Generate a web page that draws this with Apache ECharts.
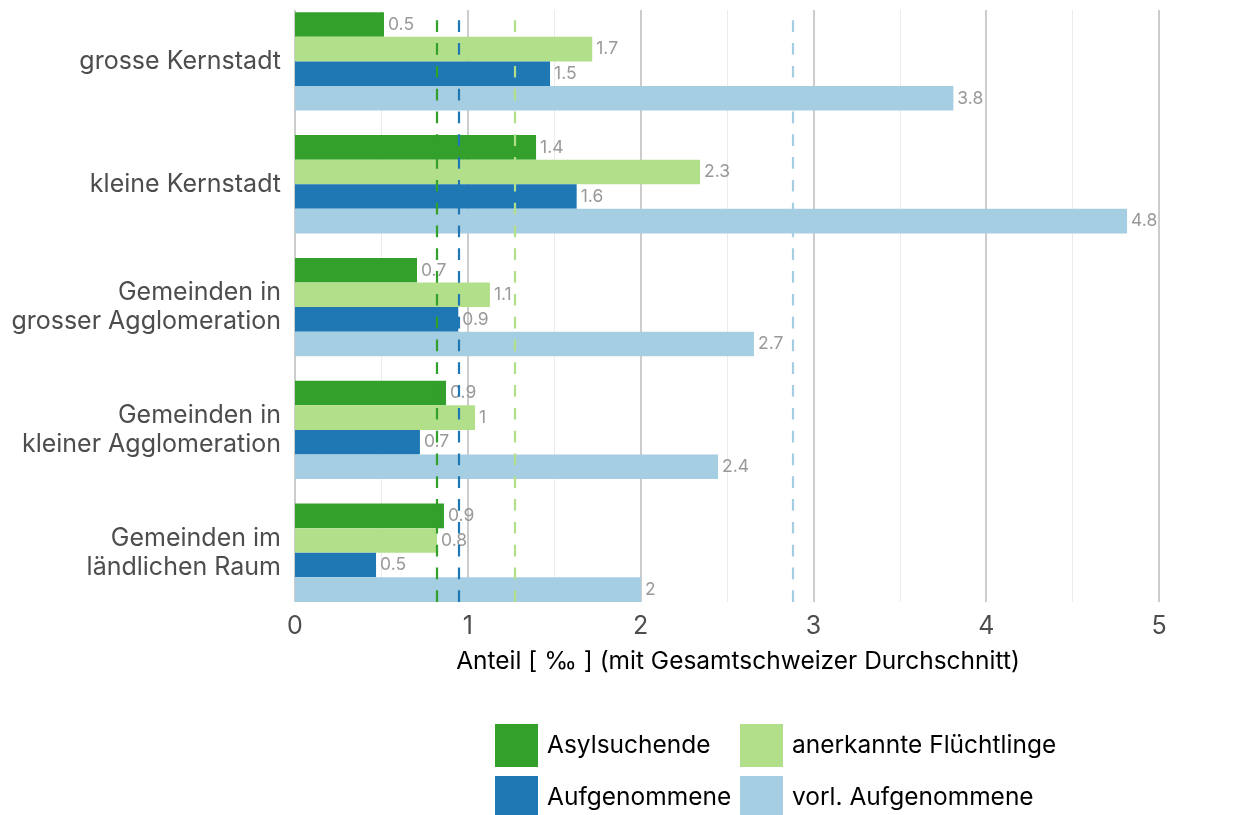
<!DOCTYPE html>
<html>
<head>
<meta charset="utf-8">
<script src="https://cdn.jsdelivr.net/npm/echarts@6/dist/echarts.min.js"></script>
<style>
html,body{margin:0;padding:0;background:#fff;}
#chart{width:1233px;height:815px;}
</style>
</head>
<body>
<div id="chart"></div>
<script>
var categories = ['grosse Kernstadt', 'kleine Kernstadt', 'Gemeinden in\ngrosser Agglomeration', 'Gemeinden in\nkleiner Agglomeration', 'Gemeinden im\nländlichen Raum'];
var seriesNames = ['Asylsuchende', 'anerkannte Flüchtlinge', 'Aufgenommene', 'vorl. Aufgenommene'];
var asylsuchende = [0.515, 1.395, 0.706, 0.874, 0.862];
var anerkannte = [1.72, 2.344, 1.128, 1.042, 0.822];
var aufgenommene = [1.476, 1.63, 0.945, 0.723, 0.469];
var vorlAufgenommene = [3.81, 4.815, 2.656, 2.448, 2.002];
var averages = [0.816, 1.267, 0.949, 2.882];
var xTicks = [0, 1, 2, 3, 4, 5];
var colors = ['#33a02c', '#b2df8a', '#1f78b4', '#a6cee3'];

var FONT = 'Inter';
var values = [asylsuchende, anerkannte, aufgenommene, vorlAufgenommene];

function fmt(v) {
  var r = Math.round(v * 10) / 10;
  return String(r);
}

var series = [];
values.forEach(function (vals, i) {
  series.push({
    name: seriesNames[i],
    type: 'bar',
    xAxisIndex: 0,
    yAxisIndex: 0,
    data: vals,
    itemStyle: { color: colors[i] },
    barGap: '0%',
    barCategoryGap: '20%',
    z: 3,
    label: {
      show: true,
      position: 'right',
      distance: 4,
      color: '#999999',
      fontFamily: FONT,
      fontSize: 17.5,
      formatter: function (p) { return fmt(p.value); }
    }
  });
});
averages.forEach(function (a, i) {
  series.push({
    name: 'avg' + i,
    type: 'line',
    xAxisIndex: 1,
    yAxisIndex: 1,
    data: [],
    silent: true,
    z: 10,
    markLine: {
      silent: true,
      symbol: ['none', 'none'],
      label: { show: false },
      animation: false,
      lineStyle: { color: colors[i], type: [11.7, 11.1], width: 2.2 },
      data: [{ xAxis: a }]
    }
  });
});

// legend layout: 2 columns x 2 rows
var legendPos = [
  { left: 495, top: 724 },
  { left: 740, top: 724 },
  { left: 495, top: 776 },
  { left: 740, top: 776 }
];
var legends = seriesNames.map(function (n, i) {
  return {
    data: [n],
    orient: 'horizontal',
    left: legendPos[i].left,
    top: legendPos[i].top,
    padding: 0,
    itemWidth: 43, itemHeight: 43,
    icon: 'rect',
    textStyle: { color: '#000', fontSize: 24.5, fontFamily: FONT, padding: [0, 0, 0, 4] },
    selectedMode: false
  };
});

var chart = echarts.init(document.getElementById('chart'));
chart.setOption({
  animation: false,
  textStyle: { fontFamily: FONT },
  grid: [
    { left: 295, width: 864, top: -2.33, height: 616.5 },
    { left: 295, width: 864, top: 10, height: 592 }
  ],
  xAxis: [
    { gridIndex: 0, type: 'value', min: 0, max: 5, show: false },
    {
      gridIndex: 1, type: 'value', min: 0, max: 5, interval: 1,
      axisLine: { show: false }, axisTick: { show: false },
      axisLabel: {
        color: '#4d4d4d', fontSize: 25, fontFamily: FONT, margin: 12,
        formatter: function (v) { return xTicks.indexOf(v) >= 0 ? String(v) : ''; }
      },
      splitLine: { show: true, lineStyle: { color: '#cccccc', width: 2 } },
      minorTick: { show: false, splitNumber: 2 },
      minorSplitLine: { show: true, lineStyle: { color: '#ebebeb', width: 1 } },
      name: 'Anteil [ ‰ ] (mit Gesamtschweizer Durchschnitt)',
      nameLocation: 'middle',
      nameGap: 47,
      nameTextStyle: { color: '#000000', fontSize: 24.5, fontFamily: FONT, padding: [0, 0, 0, 22] }
    }
  ],
  yAxis: [
    {
      gridIndex: 0, type: 'category', data: categories, inverse: true,
      axisLine: { show: false }, axisTick: { show: false }, splitLine: { show: false },
      axisLabel: { color: '#4d4d4d', fontSize: 25, fontFamily: FONT, margin: 14, lineHeight: 29, align: 'right' }
    },
    { gridIndex: 1, type: 'value', min: 0, max: 1, show: false }
  ],
  legend: legends,
  series: series
});
</script>
</body>
</html>
